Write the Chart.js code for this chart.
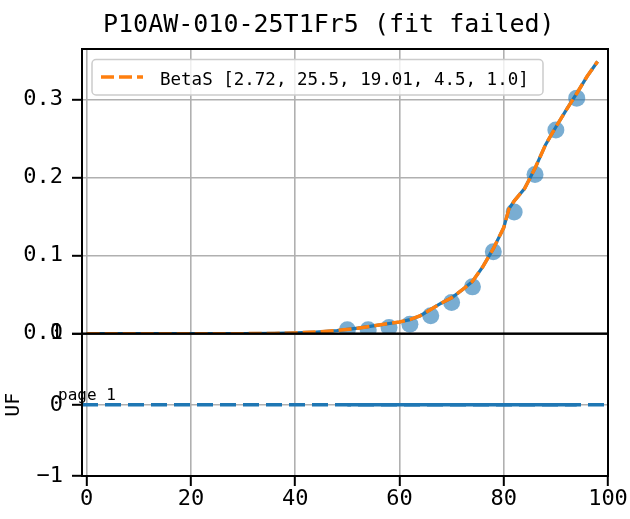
<!DOCTYPE html>
<html>
<head>
<meta charset="utf-8">
<script src="https://cdn.jsdelivr.net/npm/chart.js@4.4.1/dist/chart.umd.min.js"></script>
<style>
  html, body { margin: 0; padding: 0; background: #fff; }
  #wrap { width: 630px; height: 519px; }
</style>
</head>
<body>
<div id="wrap"><canvas id="chart" width="630" height="519"></canvas></div>
<script>
// chart data
const chartTitle = 'P10AW-010-25T1Fr5 (fit failed)';
const fitLabel = 'BetaS [2.72, 25.5, 19.01, 4.5, 1.0]';
const pageLabel = 'page 1';

const pointX = [50, 54, 58, 62, 66, 70, 74, 78, 82, 86, 90, 94];
const pointY = [0.005, 0.005, 0.008, 0.012, 0.023, 0.040, 0.060, 0.105, 0.156, 0.204, 0.261, 0.302];

const curveX = [0, 10, 20, 30, 36, 40, 44, 48, 52, 56, 60, 62, 64, 66, 68, 70, 72, 74, 76, 78, 80, 81, 82, 84, 86, 88, 90, 92, 94, 96, 98];
const curveY = [0, 0, 0, 0, 0.0003, 0.001, 0.002, 0.004, 0.007, 0.011, 0.015, 0.018, 0.023, 0.031, 0.039, 0.046, 0.056, 0.067, 0.086, 0.109, 0.136, 0.160, 0.170, 0.186, 0.212, 0.242, 0.265, 0.287, 0.308, 0.330, 0.349];

const ufValues = [0, 0, 0, 0, 0, 0, 0, 0, 0, 0, 0, 0];

const xTicks = [0, 20, 40, 60, 80, 100];
const topTicks = [0, 0.1, 0.2, 0.3];
const ufTicks = [-1, 0, 1];

const xMin = -0.9, xMax = 100;

const BLUE = '#1f77b4';
const ORANGE = '#ff7f0e';
const FONT = 'DejaVu Sans Mono';

Chart.defaults.font.family = FONT;
Chart.defaults.color = '#000';

const toPoints = (xs, ys) => xs.map((x, i) => ({ x: x, y: ys[i] }));

const gridStyle = {
  color: '#b0b0b0',
  lineWidth: 1.6,
  tickColor: '#000',
  tickLength: 10,
  tickWidth: 2
};

// spines, title, legend box and page text
const decorations = {
  id: 'decorations',
  afterDatasetsDraw(chart) {
    const { ctx, scales: { x, y, y2 } } = chart;
    ctx.save();
    ctx.strokeStyle = '#000';
    ctx.lineWidth = 2;
    ctx.strokeRect(x.left, y.top, x.right - x.left, y.bottom - y.top);
    ctx.strokeRect(x.left, y2.top, x.right - x.left, y2.bottom - y2.top);
    ctx.restore();
  },
  afterDraw(chart) {
    const ctx = chart.ctx;
    ctx.save();

    // title
    ctx.fillStyle = '#000';
    ctx.font = '25px "' + FONT + '"';
    ctx.textBaseline = 'alphabetic';
    ctx.textAlign = 'left';
    ctx.fillText(chartTitle, 103, 32);

    // legend frame
    const lx = 92, ly = 59.5, lw = 451, lh = 35.5, r = 4;
    ctx.beginPath();
    ctx.roundRect(lx, ly, lw, lh, r);
    ctx.fillStyle = 'rgba(255,255,255,0.8)';
    ctx.fill();
    ctx.strokeStyle = '#cccccc';
    ctx.lineWidth = 1.5;
    ctx.stroke();

    // legend sample
    ctx.beginPath();
    ctx.setLineDash([13, 5]);
    ctx.strokeStyle = ORANGE;
    ctx.lineWidth = 3.5;
    ctx.moveTo(101, 77);
    ctx.lineTo(143, 77);
    ctx.stroke();
    ctx.setLineDash([]);

    ctx.fillStyle = '#000';
    ctx.font = '17.5px "' + FONT + '"';
    ctx.fillText(fitLabel, 160, 85);

    // page text in lower panel
    ctx.font = '16px "' + FONT + '"';
    ctx.fillText(pageLabel, 58, 400);

    ctx.restore();
  }
};

const ctx = document.getElementById('chart').getContext('2d');
new Chart(ctx, {
  type: 'scatter',
  data: {
    datasets: [
      {
        label: fitLabel,
        data: toPoints(curveX, curveY),
        yAxisID: 'y',
        showLine: true,
        borderColor: ORANGE,
        borderWidth: 3.5,
        borderDash: [13, 5],
        pointRadius: 0,
        tension: 0,
        order: 0
      },
      {
        label: 'curve',
        data: toPoints(curveX, curveY),
        yAxisID: 'y',
        showLine: true,
        borderColor: BLUE,
        borderWidth: 3.2,
        pointRadius: 0,
        tension: 0,
        order: 1
      },
      {
        label: 'data',
        data: toPoints(pointX, pointY),
        yAxisID: 'y',
        backgroundColor: 'rgba(31,119,180,0.6)',
        borderWidth: 0,
        pointRadius: 8.5,
        order: 2
      },
      {
        label: 'UF',
        data: toPoints(pointX, ufValues),
        yAxisID: 'y2',
        showLine: true,
        borderColor: BLUE,
        borderWidth: 3.5,
        pointRadius: 0,
        order: 3
      },
      {
        label: 'UF zero',
        data: [{ x: xMin, y: 0 }, { x: xMax, y: 0 }],
        yAxisID: 'y2',
        showLine: true,
        borderColor: BLUE,
        borderWidth: 3.5,
        borderDash: [16, 7],
        pointRadius: 0,
        order: 4
      }
    ]
  },
  options: {
    responsive: false,
    animation: false,
    devicePixelRatio: 1,
    layout: { padding: { left: 0, right: 22, top: 49, bottom: 0 } },
    plugins: {
      legend: { display: false },
      tooltip: { enabled: false },
      title: { display: false }
    },
    scales: {
      x: {
        type: 'linear',
        position: 'bottom',
        min: xMin,
        max: xMax,
        afterBuildTicks: s => { s.ticks = xTicks.map(v => ({ value: v })); },
        afterFit: s => { s.height = 43; },
        grid: gridStyle,
        border: { display: false },
        ticks: { font: { size: 22 }, padding: 0, maxRotation: 0 }
      },
      y: {
        type: 'linear',
        position: 'left',
        stack: 'panels',
        stackWeight: 2,
        weight: 2,
        min: 0,
        max: 0.365,
        afterBuildTicks: s => { s.ticks = topTicks.map(v => ({ value: v })); },
        afterFit: s => { s.width = 82; },
        grid: gridStyle,
        border: { display: false },
        ticks: { font: { size: 22 }, padding: 9, callback: v => v.toFixed(1) }
      },
      y2: {
        type: 'linear',
        position: 'left',
        stack: 'panels',
        stackWeight: 1,
        weight: 1,
        min: -1,
        max: 1,
        afterBuildTicks: s => { s.ticks = ufTicks.map(v => ({ value: v })); },
        afterFit: s => { s.width = 82; },
        grid: gridStyle,
        border: { display: false },
        title: { display: true, text: 'UF', font: { size: 20 }, padding: { top: 2, bottom: 0 } },
        ticks: { font: { size: 22 }, padding: 9, callback: v => (v < 0 ? '\u2212' + Math.abs(v) : String(v)) }
      }
    }
  },
  plugins: [decorations]
});
</script>
</body>
</html>
